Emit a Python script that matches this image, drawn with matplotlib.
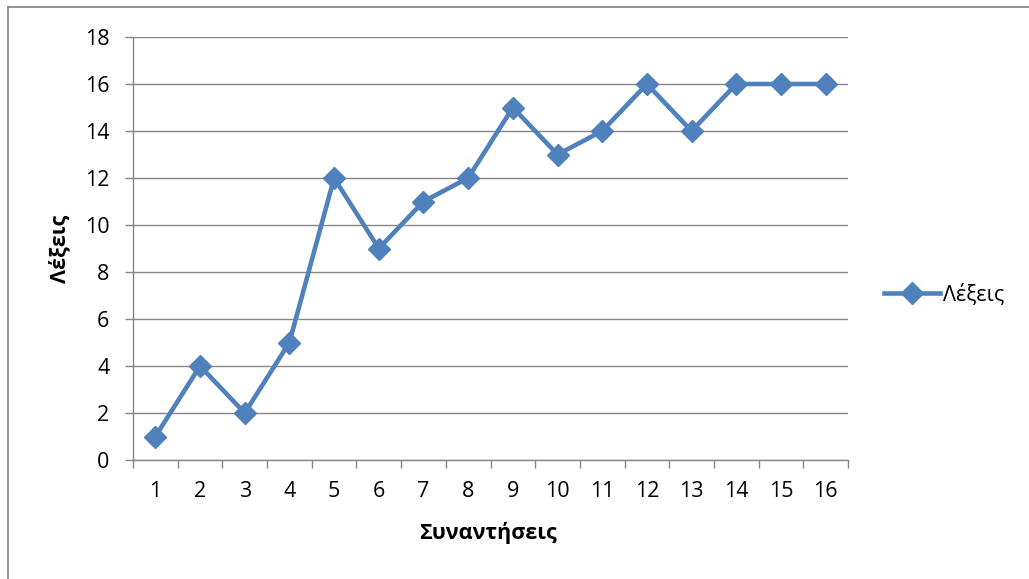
import matplotlib
matplotlib.use("Agg")
import matplotlib.pyplot as plt
from matplotlib.lines import Line2D

sessions = list(range(1, 17))
words = [1, 4, 2, 5, 12, 9, 11, 12, 15, 13, 14, 16, 14, 16, 16, 16]
series_name = "Λέξεις"
x_title = "Συναντήσεις"
y_title = "Λέξεις"

plt.rcParams['font.family'] = ['Open Sans', 'DejaVu Sans']

W, H = 1029, 579
fig = plt.figure(figsize=(W / 100, H / 100), dpi=100)
ax = fig.add_axes([133 / W, 1 - 460 / H, (848 - 133) / W, (460 - 37) / H])

color = '#4F81BD'
grid = '#868686'
ax.plot(sessions, words, color=color, lw=3.3, marker='D', markersize=11,
        markeredgecolor=color, markerfacecolor=color, label=series_name,
        solid_joinstyle='round', clip_on=False, zorder=3)

ax.set_xlim(0.5, 16.5)
ax.set_ylim(0, 18)
ax.set_yticks(range(0, 19, 2))
ax.yaxis.grid(True, color=grid, lw=1)
ax.set_axisbelow(True)

ax.set_xticks([i + 0.5 for i in range(0, 17)])
ax.set_xticklabels([])
ax.set_xticks(sessions, minor=True)
ax.set_xticklabels([str(s) for s in sessions], minor=True)
ax.tick_params(axis='x', which='major', length=6, color=grid, width=1, direction='out')
ax.tick_params(axis='x', which='minor', length=0, pad=15, labelsize=15.5)
ax.tick_params(axis='y', length=6, color=grid, width=1, labelsize=15.5, pad=11)

for s in ['top', 'right']:
    ax.spines[s].set_visible(False)
for s in ['left', 'bottom']:
    ax.spines[s].set_color(grid)
    ax.spines[s].set_linewidth(1)

fig.text(60 / W, 1 - 249 / H, y_title, rotation=90, ha='center', va='center',
         fontsize=15.5, fontweight='bold')
fig.text(488 / W, 1 - 533 / H, x_title, ha='center', va='center',
         fontsize=15.5, fontweight='bold')

h = Line2D([], [], color=color, lw=3.3, marker='D', markersize=11)
fig.legend([h], [series_name], loc='center left', bbox_to_anchor=(884 / W, 1 - 295 / H),
           frameon=False, fontsize=15.5, handlelength=2.6, handletextpad=0.15,
           borderaxespad=0, borderpad=0)

fig.add_artist(Line2D([8 / W, 8 / W], [0, 1 - 7 / H], color='#7f7f7f', lw=1.2, transform=fig.transFigure))
fig.add_artist(Line2D([8 / W, 1], [1 - 7 / H, 1 - 7 / H], color='#7f7f7f', lw=1.2, transform=fig.transFigure))

fig.savefig('out.png', dpi=100)
